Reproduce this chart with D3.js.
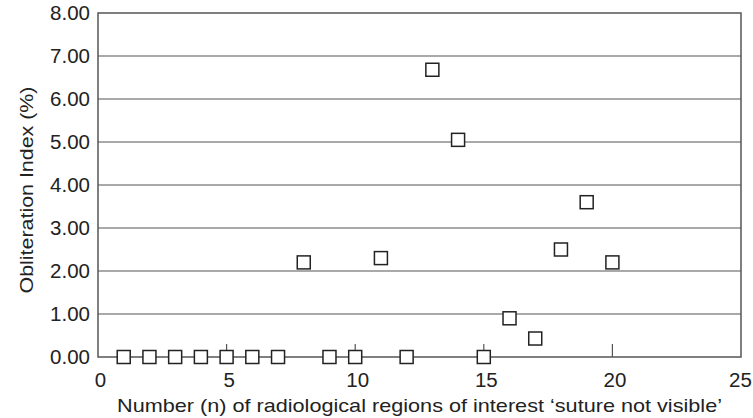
<!DOCTYPE html>
<html><head><meta charset="utf-8">
<script src="https://cdn.jsdelivr.net/npm/d3@7/dist/d3.min.js"></script>
<style>body{margin:0;background:#fff}svg{display:block}</style>
</head><body>
<svg id="c" width="753" height="418"></svg>
<script>
const xValues = [1,2,3,4,5,6,7,8,9,10,11,12,13,14,15,16,17,18,19,20];
const yValues = [0,0,0,0,0,0,0,2.2,0,0,2.3,0,6.68,5.05,0,0.9,0.43,2.5,3.6,2.2];
const xTicks = [0,5,10,15,20,25];
const yTicks = [0,1,2,3,4,5,6,7,8];
const xTitle = "Number (n) of radiological regions of interest \u2018suture not visible\u2019";
const yTitle = "Obliteration Index (%)";

const svg = d3.select("#c");
const m = {l:98, r:741, t:13, b:357};
const x = d3.scaleLinear().domain([0,25]).range([m.l, m.r]);
const y = d3.scaleLinear().domain([0,8]).range([m.b, m.t]);
const font = "'Liberation Sans', Arial, Helvetica, sans-serif";
const col = "#555";
const txt = "#222";

// gridlines
svg.append("g").selectAll("line").data(yTicks.filter(d=>d>0 && d<8)).join("line")
  .attr("x1", m.l).attr("x2", m.r).attr("y1", d=>y(d)).attr("y2", d=>y(d))
  .attr("stroke", col).attr("stroke-width", 1.2);

// frame
svg.append("rect").attr("x", m.l).attr("y", m.t).attr("width", m.r-m.l).attr("height", m.b-m.t)
  .attr("fill","none").attr("stroke", col).attr("stroke-width", 1.5);

// x axis
const xa = svg.append("g").attr("transform", `translate(0,${m.b})`)
  .call(d3.axisBottom(x).tickValues(xTicks).tickSize(0).tickFormat(d3.format("d")));
xa.select(".domain").remove();
xa.selectAll("text").attr("y", 30).attr("dy", 0).attr("dx", d => d === 25 ? -1 : 2)
  .attr("font-family", font).attr("font-size", 20.5).attr("fill", txt);
// inner ticks
svg.append("g").selectAll("line").data(xTicks.filter(d=>d>0&&d<25)).join("line")
  .attr("x1", d=>x(d)).attr("x2", d=>x(d)).attr("y1", m.b).attr("y2", m.b-13)
  .attr("stroke", col).attr("stroke-width", 1.2);

// y axis
const ya = svg.append("g").attr("transform", `translate(${m.l},0)`)
  .call(d3.axisLeft(y).tickValues(yTicks).tickSize(0).tickPadding(8).tickFormat(d3.format(".2f")));
ya.select(".domain").remove();
ya.selectAll("text").attr("font-family", font).attr("font-size", 20.5).attr("fill", txt);

// points
const s = 13;
svg.append("g").selectAll("rect").data(xValues.map((d,i)=>[d,yValues[i]])).join("rect")
  .attr("x", d=>x(d[0])-s/2).attr("y", d=>y(d[1])-s/2).attr("width", s).attr("height", s)
  .attr("fill","#fff").attr("stroke","#222").attr("stroke-width",1.5);

// titles
svg.append("text").attr("x", 419.5).attr("y", 412).attr("text-anchor","middle")
  .attr("font-family", font).attr("font-size", 19).attr("fill", txt)
  .attr("textLength", 605).attr("lengthAdjust","spacingAndGlyphs").text(xTitle);
svg.append("text").attr("transform", `translate(33,190) rotate(-90)`).attr("text-anchor","middle")
  .attr("font-family", font).attr("font-size", 19).attr("fill", txt)
  .attr("textLength", 207).attr("lengthAdjust","spacingAndGlyphs").text(yTitle);
</script>
</body></html>
